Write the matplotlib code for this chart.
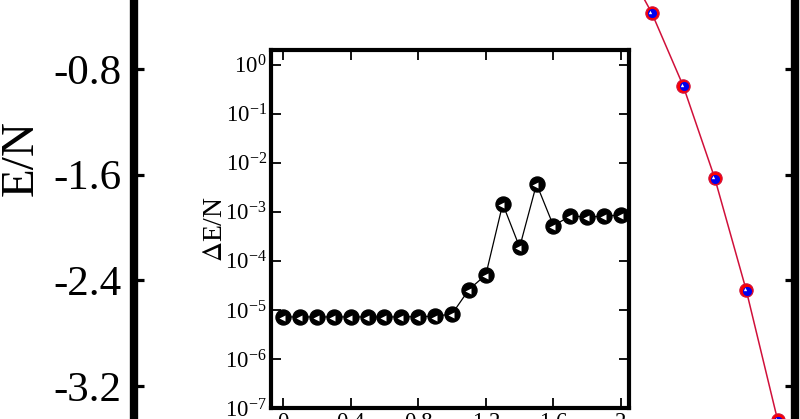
import numpy as np
import matplotlib
matplotlib.use('Agg')
import matplotlib.pyplot as plt
from matplotlib.transforms import ScaledTranslation
from matplotlib.ticker import LogLocator, LogFormatterMathtext, NullLocator

plt.rcParams['font.family'] = ['Liberation Serif', 'DejaVu Serif']
plt.rcParams['mathtext.fontset'] = 'stix'
plt.rcParams['axes.unicode_minus'] = False

# main curve E/N (visible part only)
x_main = [1.55, 1.65, 1.75, 1.85, 1.95, 2.05]
e_main = [0.06, -0.376, -0.929, -1.626, -2.474, -3.46]

# inset: energy difference per site
x_ins = [0.0, 0.1, 0.2, 0.3, 0.4, 0.5, 0.6, 0.7, 0.8, 0.9, 1.0,
         1.1, 1.2, 1.3, 1.4, 1.5, 1.6, 1.7, 1.8, 1.9, 2.0]
de_ins = [7.2e-6, 7.2e-6, 7.2e-6, 7.2e-6, 7.2e-6, 7.2e-6, 7.2e-6, 7.2e-6, 7.3e-6, 7.4e-6, 8.3e-6,
          2.6e-5, 5.2e-5, 1.45e-3, 1.9e-4, 3.7e-3, 5.2e-4, 8.3e-4, 7.8e-4, 8.2e-4, 8.6e-4]

main_yticks = [-0.8, -1.6, -2.4, -3.2]
ins_xticks = [0, 0.4, 0.8, 1.2, 1.6, 2]
ins_xlabels = ['0', '0.4', '0.8', '1.2', '1.6', '2']

fig = plt.figure(figsize=(8, 4.19), dpi=100)


def shifted(a, dx, dy):
    return a.transData + ScaledTranslation(dx / 72, dy / 72, fig.dpi_scale_trans)


ax = fig.add_axes([134/800, 0, 661/800, 1])
ax.plot(x_main, e_main, '-', color='#d0103a', lw=1.1, zorder=2)
ax.plot(x_main, e_main, 'o', ms=9.6, mfc='#ff0000', mec='#d0103a', mew=0.8, zorder=3)
ax.plot(x_main, e_main, ls='none', marker='o', ms=6.6, mfc='#0000ee', mec='none', zorder=4,
        transform=shifted(ax, 0.5, -0.3))
ax.plot(x_main, e_main, ls='none', marker='^', ms=2.4, mfc='white', mec='none', zorder=5,
        transform=shifted(ax, -1.0, 0.9))
ax.set_xlim(0.005, 2.105)
ax.set_ylim(-3.4496, -0.2777)
ax.set_xticks([])
ax.set_yticks(main_yticks)
ax.set_yticklabels(['%.1f' % v for v in main_yticks])
ax.tick_params(axis='y', direction='in', length=7, width=2.3, left=True, right=True,
               labelsize=31, pad=9)
for s in ['top', 'bottom']:
    ax.spines[s].set_visible(False)
for s in ['left', 'right']:
    ax.spines[s].set_linewidth(6)
fig.text(21/800, 1 - 158/419, 'E/N', rotation=90, ha='center', va='center', fontsize=34)

ins = fig.add_axes([271/800, 11/419, 358/800, 358/419])
ins.plot(x_ins, de_ins, '-', color='black', lw=0.9, zorder=2)
ins.plot(x_ins, de_ins, 'o', ms=10.8, mfc='black', mec='black', zorder=3)
ins.plot(x_ins, de_ins, ls='none', marker='<', ms=4.0, mfc='white', mec='none', zorder=4,
         transform=shifted(ins, -0.9, -0.9))
ins.set_yscale('log')
ins.set_ylim(1e-7, 2.0)
ins.set_xlim(-0.071, 2.047)
ins.yaxis.set_major_locator(LogLocator(base=10, numticks=10))
ins.yaxis.set_major_formatter(LogFormatterMathtext())
ins.yaxis.set_minor_locator(NullLocator())
ins.set_xticks(ins_xticks)
ins.set_xticklabels(ins_xlabels)
ins.tick_params(direction='in', length=7, width=1.3, top=True, right=True, labelsize=16.5, pad=3)
for s in ins.spines.values():
    s.set_linewidth(3)
fig.text(216/800, 1 - 229/419, r'$\Delta$E/N', rotation=90, ha='center', va='center', fontsize=20)

fig.savefig('out.png', dpi=100)
